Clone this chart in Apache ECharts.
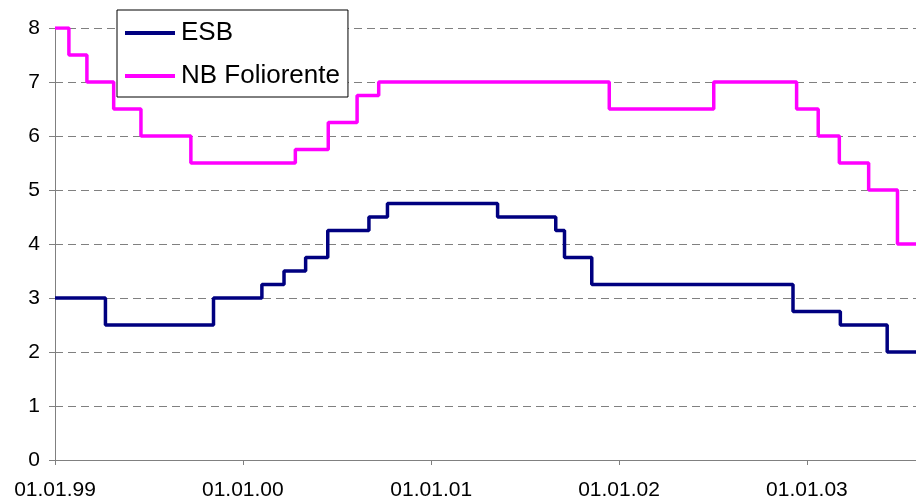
<!DOCTYPE html>
<html>
<head>
<meta charset="utf-8">
<script src="https://cdn.jsdelivr.net/npm/echarts@6/dist/echarts.min.js"></script>
<style>
html,body{margin:0;padding:0;background:#fff;}
#chart{width:916px;height:502px;}
</style>
</head>
<body>
<div id="chart"></div>
<script>
// Series names
var seriesNames = ['ESB', 'NB Foliorente'];

// ESB: dates of rate changes and new values
var esbDates = ['1999-01-01','1999-04-09','1999-11-05','2000-02-07','2000-03-21','2000-05-02','2000-06-14','2000-09-02','2000-10-08','2001-05-10','2001-08-31','2001-09-17','2001-11-09','2002-12-05','2003-03-07','2003-06-06','2003-08-01'];
var esbValues = [3.0, 2.5, 3.0, 3.25, 3.5, 3.75, 4.25, 4.5, 4.75, 4.5, 4.25, 3.75, 3.25, 2.75, 2.5, 2.0, 2.0];

// NB Foliorente: dates of rate changes and new values
var nbDates = ['1999-01-01','1999-01-28','1999-03-04','1999-04-25','1999-06-17','1999-09-22','2000-04-12','2000-06-15','2000-08-10','2000-09-21','2001-12-13','2002-07-04','2002-12-12','2003-01-23','2003-03-05','2003-05-01','2003-06-26','2003-08-01'];
var nbValues = [8.0, 7.5, 7.0, 6.5, 6.0, 5.5, 5.75, 6.25, 6.75, 7.0, 6.5, 7.0, 6.5, 6.0, 5.5, 5.0, 4.0, 4.0];

// X axis tick labels (dates)
var xTickDates = ['1999-01-01','2000-01-01','2001-01-01','2002-01-01','2003-01-01'];
var xMinDate = '1999-01-01';
var xMaxDate = '2003-08-01';

// Y axis
var yMin = 0, yMax = 8, yStep = 1;

function ts(d){ return Date.parse(d + 'T00:00:00Z'); }
function pair(dates, vals){ return dates.map(function(d,i){ return [ts(d), vals[i]]; }); }
function fmt(v){
  var d = new Date(v);
  var dd = ('0' + d.getUTCDate()).slice(-2);
  var mm = ('0' + (d.getUTCMonth()+1)).slice(-2);
  var yy = ('0' + (d.getUTCFullYear() % 100)).slice(-2);
  return dd + '.' + mm + '.' + yy;
}
var tickVals = xTickDates.map(ts);
var FONT = '"Liberation Sans", Arial, sans-serif';

var chart = echarts.init(document.getElementById('chart'), null, {renderer:'canvas'});
chart.setOption({
  animation: false,
  backgroundColor: '#ffffff',
  textStyle: { fontFamily: FONT },
  grid: { left: 55, right: 0, top: 28, bottom: 42, containLabel: false },
  legend: {
    data: seriesNames.map(function(n){ return { name: n, icon: 'rect' }; }),
    orient: 'vertical',
    left: 117, top: 10,
    padding: [10, 8, 8, 8],
    itemGap: 17,
    itemWidth: 50,
    itemHeight: 4,
    backgroundColor: '#ffffff',
    borderColor: '#000000',
    borderWidth: 1,
    selectedMode: false,
    textStyle: { fontSize: 26, color: '#000', fontFamily: FONT, padding: [0, 0, 0, 1] }
  },
  xAxis: {
    type: 'value',
    min: ts(xMinDate),
    max: ts(xMaxDate),
    axisLine: { show: true, lineStyle: { color: '#808080', width: 1 } },
    axisTick: { show: true, length: 5, inside: false, customValues: tickVals, lineStyle: { color: '#808080' } },
    axisLabel: { customValues: tickVals, formatter: fmt, fontSize: 21, color: '#000', margin: 20, fontFamily: FONT },
    splitLine: { show: false }
  },
  yAxis: {
    type: 'value',
    min: yMin, max: yMax, interval: yStep,
    axisLine: { show: true, lineStyle: { color: '#808080', width: 1 } },
    axisTick: { show: true, length: 6, lineStyle: { color: '#808080' } },
    axisLabel: { fontSize: 21, color: '#000', margin: 15, fontFamily: FONT },
    splitLine: { show: true, lineStyle: { color: '#808080', type: [8, 5], width: 1 } }
  },
  series: [
    {
      name: seriesNames[0], type: 'line', step: 'end', symbol: 'none',
      data: pair(esbDates, esbValues),
      lineStyle: { color: '#000080', width: 3.5 }, itemStyle: { color: '#000080' }, z: 3
    },
    {
      name: seriesNames[1], type: 'line', step: 'end', symbol: 'none',
      data: pair(nbDates, nbValues),
      lineStyle: { color: '#FF00FF', width: 3.5 }, itemStyle: { color: '#FF00FF' }, z: 2
    }
  ]
});
</script>
</body>
</html>
